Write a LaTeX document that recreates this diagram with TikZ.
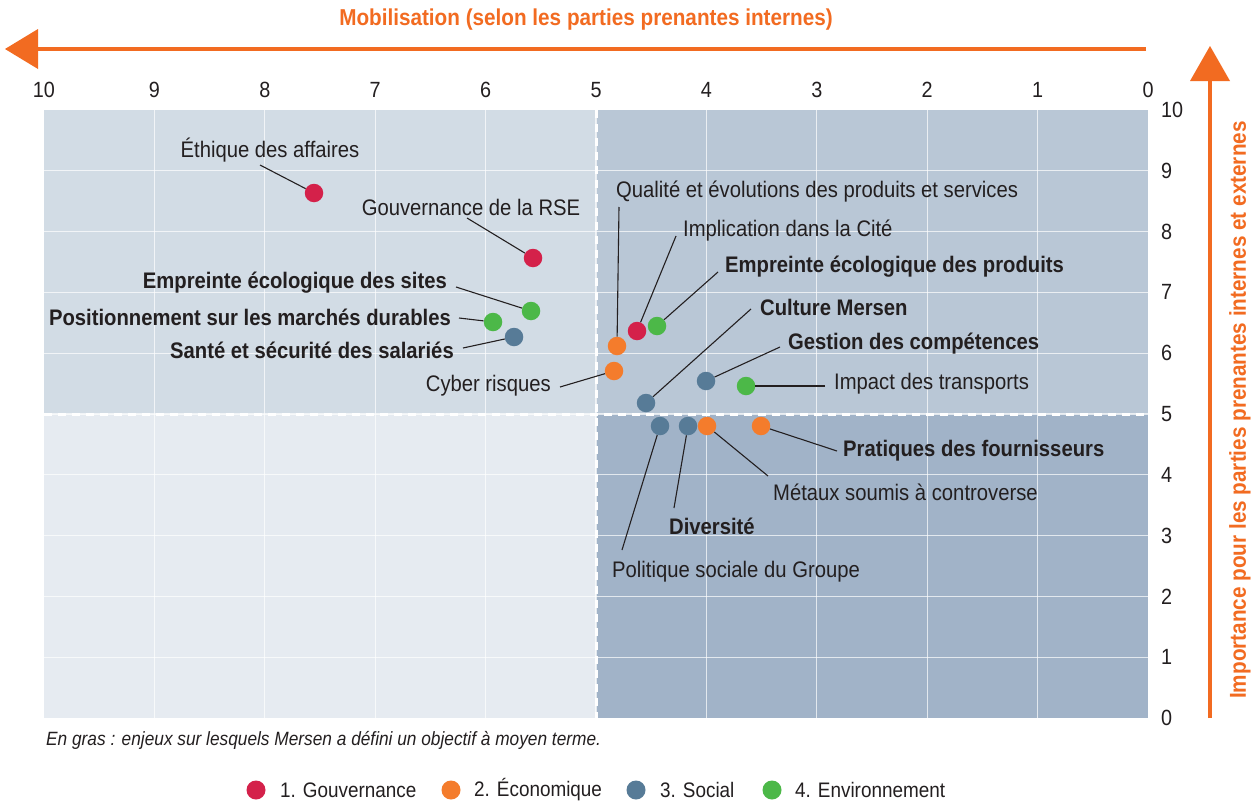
\documentclass[tikz,border=0pt]{standalone}
\usepackage{fontspec}
\setmainfont{Liberation Sans}[FakeStretch=0.9]
\definecolor{cred}{HTML}{D4214A}
\definecolor{corg}{HTML}{F47C2C}
\definecolor{cblu}{HTML}{577B97}
\definecolor{cgrn}{HTML}{4CB848}
\definecolor{axo}{HTML}{F26B21}
\definecolor{qtl}{HTML}{D2DCE5}
\definecolor{qtr}{HTML}{B9C7D6}
\definecolor{qbl}{HTML}{E6EBF1}
\definecolor{qbr}{HTML}{A1B3C8}
\definecolor{txt}{HTML}{231F20}
\definecolor{leadc}{HTML}{231F20}
\begin{document}
\begin{tikzpicture}[x=1pt,y=-1pt,
  dot/.style={circle,inner sep=0pt,minimum size=18.5pt},
  lgdot/.style={circle,inner sep=0pt,minimum size=19pt},
  lab/.style={font=\fontsize{22.5}{26}\selectfont, text=txt, inner sep=0pt},
  blab/.style={font=\fontsize{22.5}{26}\selectfont\bfseries, text=txt, inner sep=0pt},
  tick/.style={font=\fontsize{22}{26}\selectfont, text=txt, inner sep=0pt},
  lgtext/.style={font=\fontsize{21}{24}\selectfont, text=txt, inner sep=0pt, anchor=west},
  lead/.style={draw=leadc,line width=1.1pt},
  gridl/.style={draw=white,line width=1.2pt,opacity=0.7},
  dsh/.style={draw=white,line width=3pt,dash pattern=on 8pt off 6pt},
  axis/.style={draw=axo,line width=4pt},
  atitle/.style={font=\fontsize{23}{26}\selectfont\bfseries, text=axo, inner sep=0pt}]
\useasboundingbox (0,0) rectangle (1256,803);
\fill[white] (0,0) rectangle (1256,803);
% quadrants
\fill[qtl] (44,110) rectangle (596,414);
\fill[qtr] (596,110) rectangle (1148,414);
\fill[qbl] (44,414) rectangle (596,718);
\fill[qbr] (596,414) rectangle (1148,718);
% grid
\foreach \i in {1,...,9} {
  \draw[gridl] ({1148-110.4*\i},110) -- ({1148-110.4*\i},718);
  \draw[gridl] (44,{718-60.8*\i}) -- (1148,{718-60.8*\i});
}
\draw[dsh] (596,110) -- (596,718);
\draw[dsh] (44,414) -- (1148,414);
% tick labels
\foreach \i in {0,...,10} {
  \node[tick] (xt\i) at ({1148-110.4*\i},90) {\i};
  \node[tick,anchor=west] (yt\i) at (1161,{718-60.8*\i}) {\i};
}
% top axis
\node[atitle] (xtitle) at (586,20) {Mobilisation (selon les parties prenantes internes)};
\coordinate (xa1) at (1146,49);
\coordinate (xa2) at (36,49);
\draw[axis] (xa1) -- (xa2);
\fill[axo] (5,49) -- (38,29) -- (38,69) -- cycle;
% right axis
\coordinate (ya1) at (1210,718);
\coordinate (ya2) at (1210,79);
\draw[axis] (ya1) -- (ya2);
\fill[axo] (1210,46) -- (1190,81) -- (1230,81) -- cycle;
\node[atitle,rotate=90] (ytitle) at (1240,410) {Importance pour les parties prenantes internes et externes};
% dots
\node[dot,fill=cred] (eth) at (314,193) {};
\node[dot,fill=cred] (gouv) at (533,258) {};
\node[dot,fill=cgrn] (eds) at (531,311) {};
\node[dot,fill=cgrn] (pos) at (493,322) {};
\node[dot,fill=cblu] (sante) at (514,337) {};
\node[dot,fill=corg] (cyber) at (614,371) {};
\node[dot,fill=corg] (qual) at (617,346) {};
\node[dot,fill=cred] (impl) at (637,331) {};
\node[dot,fill=cgrn] (edp) at (657,326) {};
\node[dot,fill=cblu] (cult) at (646,403) {};
\node[dot,fill=cblu] (gest) at (706,381) {};
\node[dot,fill=cgrn] (transp) at (746,386) {};
\node[dot,fill=cblu] (pol) at (660,426) {};
\node[dot,fill=cblu] (div) at (688,426) {};
\node[dot,fill=corg] (met) at (707,426) {};
\node[dot,fill=corg] (prat) at (761,426) {};
% labels
\node[lab] (leth) at (270,150) {Éthique des affaires};
\node[lab] (lgouv) at (471,207) {Gouvernance de la RSE};
\node[blab,anchor=east] (leds) at (447,283) {Empreinte écologique des sites};
\node[blab,anchor=east] (lpos) at (451,317) {Positionnement sur les marchés durables};
\node[blab,anchor=east] (lsante) at (454,350) {Santé et sécurité des salariés};
\node[lab,anchor=east] (lcyber) at (551,386) {Cyber risques};
\node[lab,anchor=west] (lqual) at (616,192) {Qualité et évolutions des produits et services};
\node[lab,anchor=west] (limpl) at (683,231) {Implication dans la Cité};
\node[blab,anchor=west] (ledp) at (725,267) {Empreinte écologique des produits};
\node[blab,anchor=west] (lcult) at (760,307) {Culture Mersen};
\node[blab,anchor=west] (lgest) at (788,344) {Gestion des compétences};
\node[lab,anchor=west] (ltransp) at (834,384) {Impact des transports};
\node[lab,anchor=west] (lpol) at (612,572) {Politique sociale du Groupe};
\node[blab,anchor=west] (ldiv) at (669,526) {Diversité};
\node[lab,anchor=west] (lmet) at (773,492) {Métaux soumis à controverse};
\node[blab,anchor=west] (lprat) at (843,451) {Pratiques des fournisseurs};
% leader start points
\coordinate (seth) at (260,165);
\coordinate (sgouv) at (467,218);
\coordinate (seds) at (456,287);
\coordinate (spos) at (459,318);
\coordinate (ssante) at (463,348);
\coordinate (scyber) at (560,387);
\coordinate (squal) at (619,207);
\coordinate (simpl) at (676,236);
\coordinate (sedp) at (718,272);
\coordinate (scult) at (751,309);
\coordinate (sgest) at (780,347);
\coordinate (stransp) at (825,386);
\coordinate (spol) at (622,550);
\coordinate (sdiv) at (674,508);
\coordinate (smet) at (768,476);
\coordinate (sprat) at (837,451);
\foreach \n in {eth,gouv,eds,pos,sante,cyber,qual,impl,edp,cult,gest,transp,pol,div,met,prat}
  \draw[lead] (s\n) -- (\n);
% footnote
\node[lab,anchor=west,font=\fontsize{19.2}{22}\selectfont\itshape] (note) at (46,740) {En gras : enjeux sur lesquels Mersen a défini un objectif à moyen terme.};
% legend
\node[lgdot,fill=cred] (lg1) at (256,790) {};
\node[lgdot,fill=corg] (lg2) at (451,790) {};
\node[lgdot,fill=cblu] (lg3) at (636,790) {};
\node[lgdot,fill=cgrn] (lg4) at (772,790) {};
\node[lgtext] (lt1) at (280,790) {1. Gouvernance};
\node[lgtext] (lt2) at (474,790) {2. Économique};
\node[lgtext] (lt3) at (660,790) {3. Social};
\node[lgtext] (lt4) at (795,790) {4. Environnement};
\end{tikzpicture}
\end{document}
